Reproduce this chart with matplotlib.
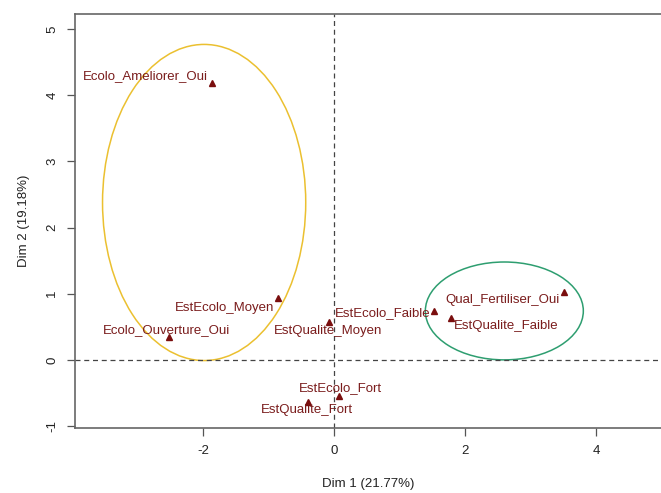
import matplotlib.pyplot as plt
from matplotlib.patches import Ellipse

plt.rcParams['font.family'] = ['Liberation Sans', 'DejaVu Sans']
plt.rcParams['axes.unicode_minus'] = False

# Modalities and their coordinates on the first two dimensions
labels = ["Ecolo_Ameliorer_Oui", "EstEcolo_Moyen", "Ecolo_Ouverture_Oui",
          "EstQualite_Moyen", "EstEcolo_Faible", "Qual_Fertiliser_Oui",
          "EstQualite_Faible", "EstEcolo_Fort", "EstQualite_Fort"]
dim1 = [-1.86, -0.85, -2.52, -0.08, 1.53, 3.51, 1.79, 0.08, -0.40]
dim2 = [4.18, 0.94, 0.35, 0.57, 0.74, 1.03, 0.63, -0.54, -0.63]

# Label offsets (pixels) so text does not sit on the markers
offsets = [(-67, 7), (-54, -10), (-2, 7), (-1, -9), (-52, -2),
           (-61, -8), (55, -8), (1, 8), (-1, -8)]

# Groups circled on the map: centre x, centre y, width, height
groups_x = [-1.98, 2.60]
groups_y = [2.38, 0.74]
groups_w = [3.10, 2.41]
groups_h = [4.78, 1.48]
groups_col = ["#EBC030", "#2E9E70"]

fig = plt.figure(figsize=(6.61, 4.93), dpi=100)
ax = fig.add_axes([75 / 661, 65 / 493, 1 - 75 / 661, (428 - 14) / 493])

ax.axhline(0, color="#444444", lw=0.9, ls=(0, (4, 3)))
ax.axvline(0, color="#444444", lw=0.9, ls=(0, (4, 3)))

for cx, cy, w, h, c in zip(groups_x, groups_y, groups_w, groups_h, groups_col):
    ax.add_patch(Ellipse((cx, cy), w, h, fill=False, edgecolor=c, lw=1.1))

ax.plot(dim1, dim2, ls="none", marker="^", color="#7A0E0E", markersize=4.5)
for lab, x, y, off in zip(labels, dim1, dim2, offsets):
    ax.annotate(lab, xy=(x, y), xytext=off, textcoords="offset pixels",
                ha="center", va="center", fontsize=9.5, color="#7A1C1C")

ax.set_xlim(-3.95, 4.99)
ax.set_ylim(-1.03, 5.23)
ax.set_xticks([-2, 0, 2, 4])
ax.set_yticks([-1, 0, 1, 2, 3, 4, 5])
ax.set_xlabel("Dim 1 (21.77%)", fontsize=9.5, color="#222222", labelpad=15)
ax.set_ylabel("Dim 2 (19.18%)", fontsize=9.5, color="#222222", labelpad=12)
for lab in ax.get_yticklabels():
    lab.set_rotation(90)
    lab.set_va("center")
ax.tick_params(axis="both", length=6, width=0.9, color="#555555",
               labelsize=9.5, labelcolor="#222222", pad=6)

ax.spines["right"].set_visible(False)
for s in ["left", "top", "bottom"]:
    ax.spines[s].set_color("#666666")
    ax.spines[s].set_linewidth(1.2)

plt.savefig("out.png", dpi=100)
